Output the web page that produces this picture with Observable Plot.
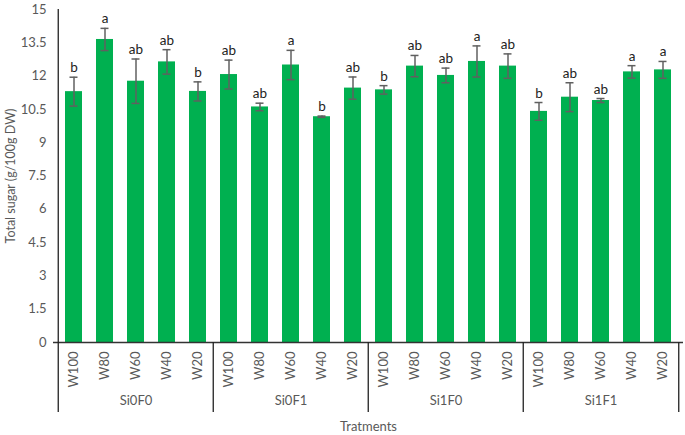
<!DOCTYPE html>
<html>
<head>
<meta charset="utf-8">
<script src="https://cdn.jsdelivr.net/npm/d3@7"></script>
<script src="https://cdn.jsdelivr.net/npm/@observablehq/plot@0.6"></script>
<style>
  html, body { margin: 0; padding: 0; background: #fff; }
  svg { font-family: Lato, "Open Sans", sans-serif; }
</style>
</head>
<body>
<div id="chart"></div>
<script>
const groups = ["Si0F0", "Si0F1", "Si1F0", "Si1F1"];
const waters = ["W100", "W80", "W60", "W40", "W20"];
const means = [11.3, 13.65, 11.77, 12.64, 11.31,
               12.07, 10.61, 12.5, 10.17, 11.46,
               11.38, 12.45, 12.03, 12.66, 12.45,
               10.41, 11.05, 10.9, 12.19, 12.28];
const errs = [0.65, 0.5, 1.0, 0.55, 0.43,
              0.65, 0.17, 0.66, 0.03, 0.5,
              0.19, 0.48, 0.33, 0.7, 0.55,
              0.4, 0.65, 0.09, 0.28, 0.38];
const letters = ["b", "a", "ab", "ab", "b",
                 "ab", "ab", "a", "b", "ab",
                 "b", "ab", "ab", "a", "ab",
                 "b", "ab", "ab", "a", "a"];
const yTicks = [0, 1.5, 3, 4.5, 6, 7.5, 9, 10.5, 12, 13.5, 15];

const data = groups.flatMap((g, i) => waters.map((w, j) => ({
  key: g + " " + w, group: g, water: w,
  mean: means[i * 5 + j], err: errs[i * 5 + j], letter: letters[i * 5 + j]
})));

const W = 685, H = 435, mL = 53, mR = 2, mT = 9, mB = 93;
const step = (W - mL - mR) / data.length;
const innerH = H - mT - mB;
const below = 70;
const firstKeys = groups.map(g => g + " " + waters[0]);
const midKeys = groups.map(g => g + " " + waters[2]);
const lastKey = data[data.length - 1].key;
const textColor = "#595959";

const plot = Plot.plot({
  width: W, height: H,
  marginLeft: mL, marginRight: mR, marginTop: mT, marginBottom: mB,
  style: { fontSize: "13px", color: textColor, fontFamily: "Lato, 'Open Sans', sans-serif" },
  x: { domain: data.map(d => d.key), paddingInner: 0.46, paddingOuter: 0.23 },
  y: { domain: [0, 15] },
  marks: [
    Plot.axisY({ ticks: yTicks, tickSize: 0, tickPadding: 7, tickFormat: d => String(d),
      label: null, fill: textColor, fontSize: 13 }),
    Plot.axisY({ ticks: [], label: "Total sugar (g/100g DW)", labelAnchor: "center", labelArrow: "none",
      labelOffset: 47, fill: textColor, fontSize: 12.5 }),
    Plot.axisX({ tickSize: 0, tickPadding: 9, tickRotate: -90, tickFormat: d => d.split(" ")[1],
      label: "Tratments", labelAnchor: "center", labelArrow: "none", labelOffset: 88,
      fill: textColor, fontSize: 13 }),
    Plot.barY(data, { x: "key", y: "mean", fill: "#00B050" }),
    Plot.ruleX(data, { x: "key", y1: d => d.mean - d.err, y2: d => d.mean + d.err, stroke: "#606060", strokeWidth: 1.5 }),
    Plot.tickY(data, { x: "key", y: d => d.mean + d.err, stroke: "#606060", strokeWidth: 1.5, insetLeft: 4.5, insetRight: 4.5 }),
    Plot.tickY(data, { x: "key", y: d => d.mean - d.err, stroke: "#606060", strokeWidth: 1.5, insetLeft: 4.5, insetRight: 4.5 }),
    Plot.text(data, { x: "key", y: d => d.mean + d.err, text: "letter", dy: -5, lineAnchor: "bottom", fill: "#222", fontSize: 13.5 }),
    Plot.ruleY([0], { stroke: "#333", strokeWidth: 1.3 }),
    Plot.ruleX([firstKeys[0]], { dx: -step / 2, stroke: "#222", strokeWidth: 1.3, insetBottom: -below }),
    Plot.ruleX(firstKeys.slice(1), { dx: -step / 2, stroke: "#222", strokeWidth: 1.3, insetTop: innerH, insetBottom: -below }),
    Plot.ruleX([lastKey], { dx: step / 2, stroke: "#222", strokeWidth: 1.3, insetTop: innerH, insetBottom: -below }),
    Plot.text(groups, { x: (d, i) => midKeys[i], frameAnchor: "bottom", dy: 62, text: d => d, fill: textColor, fontSize: 13 })
  ]
});
document.getElementById("chart").appendChild(plot);
</script>
</body>
</html>
